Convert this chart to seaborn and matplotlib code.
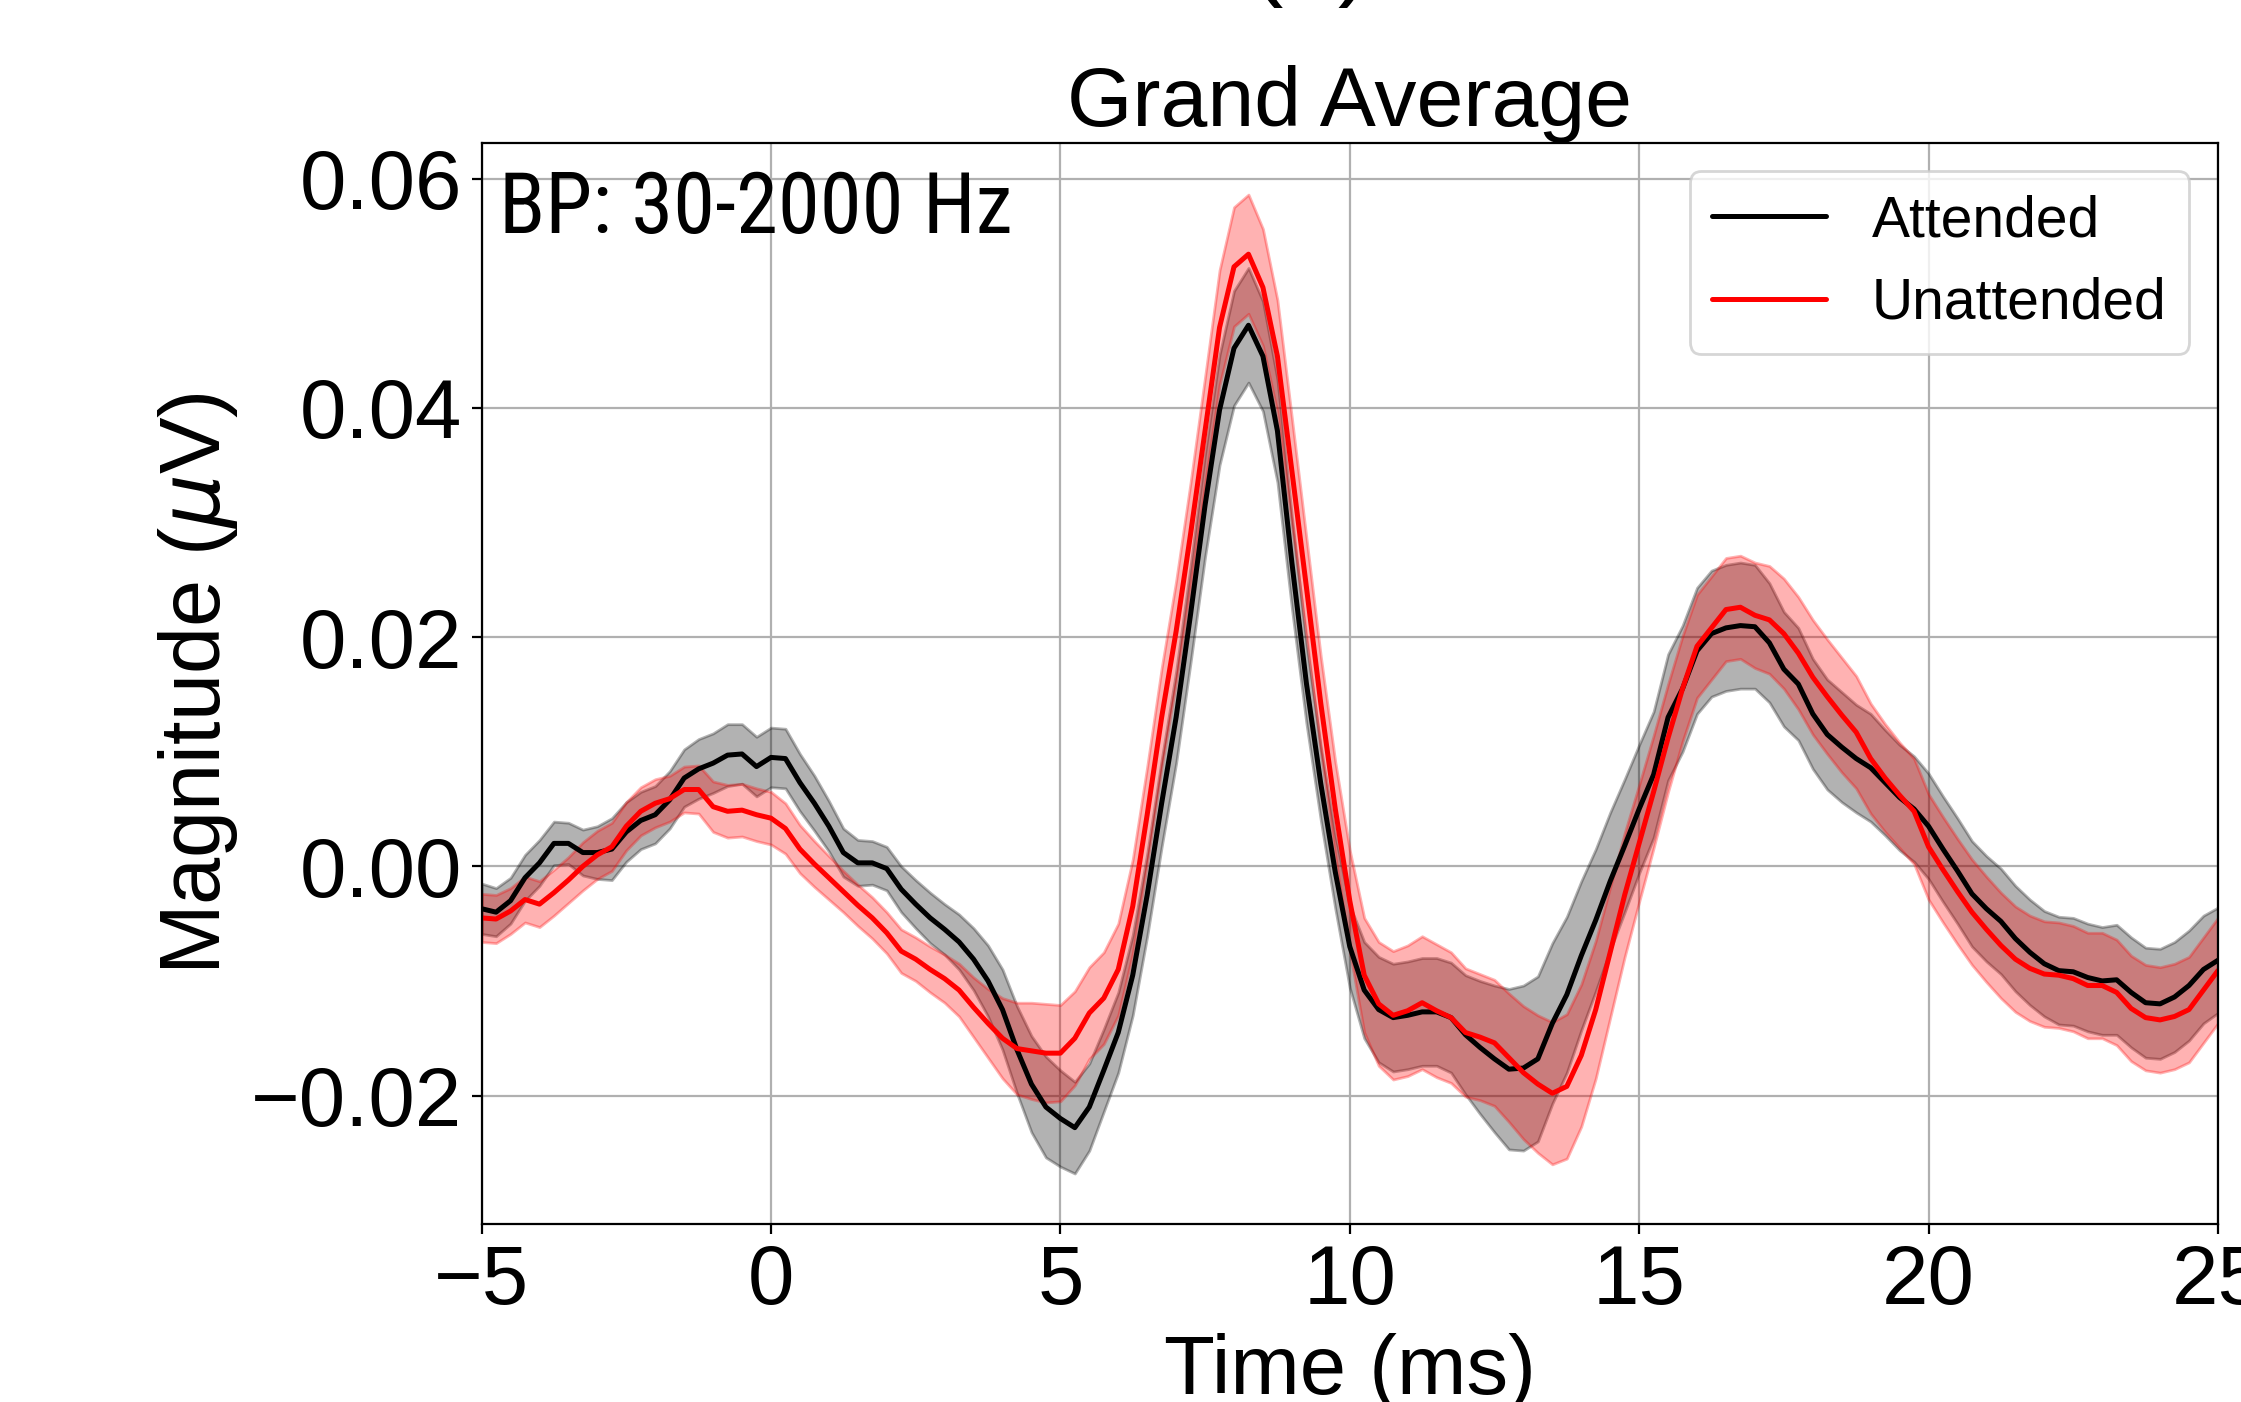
import numpy as np
import matplotlib
matplotlib.use("Agg")
import matplotlib.pyplot as plt
import seaborn as sns


# sampling grid of the averaged response (ms)
TIME_MS = np.arange(-5.0, 25.001, 0.25)

ATTENDED_MEAN = [
    -0.0037, -0.0040, -0.0030, -0.0010, 0.0003, 0.0020, 0.0020, 0.0012, 0.0012,
    0.0015, 0.0030, 0.0040, 0.0045, 0.0058, 0.0077, 0.0085, 0.0090, 0.0097, 0.0098, 0.0087,
    0.0095, 0.0094, 0.0073, 0.0055, 0.0035, 0.0012, 0.0003, 0.0003, -0.0002,
    -0.0020, -0.0033, -0.0045, -0.0055, -0.0066, -0.0081, -0.0100, -0.0125,
    -0.0160, -0.0190, -0.0210, -0.0220, -0.0228, -0.0210, -0.0178, -0.0145,
    -0.0095, -0.0025, 0.0055, 0.0130, 0.0220, 0.0315, 0.0398, 0.0452,
    0.0472, 0.0445, 0.0380, 0.0265, 0.0160, 0.0072, -0.0005, -0.0070,
    -0.0108, -0.0125, -0.0132, -0.0130, -0.0127, -0.0127, -0.0132, -0.0147,
    -0.0158, -0.0168, -0.0177, -0.0176, -0.0168, -0.0137, -0.0112, -0.0078,
    -0.0047, -0.0013, 0.0018, 0.0050, 0.0080, 0.0130, 0.0155, 0.0188,
    0.0203, 0.0208, 0.0210, 0.0209, 0.0195, 0.0172, 0.0159, 0.0133,
    0.0115, 0.0104, 0.0094, 0.0086, 0.0073, 0.0060, 0.0050, 0.0035,
    0.0015, -0.0004, -0.0024, -0.0037, -0.0048, -0.0063, -0.0075, -0.0085,
    -0.0091, -0.0092, -0.0097, -0.0100, -0.0099, -0.0110, -0.0119, -0.0120,
    -0.0114, -0.0104, -0.0090, -0.0082,
]
ATTENDED_SEM = [
    0.0022, 0.0021, 0.0020, 0.0020, 0.0020, 0.0019, 0.0018, 0.0020, 0.0023,
    0.0027, 0.0026, 0.0025, 0.0025, 0.0025, 0.0025, 0.0026, 0.0026, 0.0027, 0.0026, 0.0026,
    0.0026, 0.0026, 0.0025, 0.0024, 0.0022, 0.0021, 0.0020, 0.0019, 0.0019,
    0.0020, 0.0021, 0.0022, 0.0022, 0.0024, 0.0027, 0.0031, 0.0035,
    0.0038, 0.0042, 0.0044, 0.0042, 0.0040, 0.0038, 0.0036, 0.0035,
    0.0035, 0.0036, 0.0038, 0.0040, 0.0042, 0.0045, 0.0048, 0.0050,
    0.0050, 0.0048, 0.0045, 0.0040, 0.0035, 0.0032, 0.0032, 0.0036,
    0.0042, 0.0046, 0.0047, 0.0047, 0.0047, 0.0047, 0.0048, 0.0052,
    0.0058, 0.0064, 0.0070, 0.0072, 0.0072, 0.0070, 0.0068, 0.0065,
    0.0062, 0.0060, 0.0058, 0.0056, 0.0055, 0.0055, 0.0055, 0.0055,
    0.0055, 0.0055, 0.0055, 0.0054, 0.0052, 0.0050, 0.0049, 0.0048,
    0.0048, 0.0048, 0.0047, 0.0047, 0.0046, 0.0046, 0.0046, 0.0046,
    0.0046, 0.0046, 0.0046, 0.0046, 0.0046, 0.0046, 0.0046, 0.0046,
    0.0047, 0.0047, 0.0047, 0.0047, 0.0048, 0.0048, 0.0048, 0.0048,
    0.0048, 0.0048, 0.0047, 0.0046,
]

UNATTENDED_MEAN = [
    -0.0045, -0.0046, -0.0039, -0.0029, -0.0033, -0.0023, -0.0012, 0.0000, 0.0010,
    0.0017, 0.0035, 0.0048, 0.0055, 0.0059, 0.0067, 0.0067, 0.0052, 0.0048, 0.0049, 0.0045,
    0.0042, 0.0033, 0.0015, 0.0002, -0.0010, -0.0022, -0.0034, -0.0045, -0.0058,
    -0.0074, -0.0081, -0.0090, -0.0098, -0.0108, -0.0123, -0.0137, -0.0150,
    -0.0159, -0.0161, -0.0163, -0.0163, -0.0150, -0.0128, -0.0115, -0.0090,
    -0.0035, 0.0045, 0.0130, 0.0205, 0.0290, 0.0380, 0.0470, 0.0523,
    0.0534, 0.0505, 0.0445, 0.0345, 0.0244, 0.0142, 0.0050, -0.0030,
    -0.0095, -0.0120, -0.0130, -0.0126, -0.0119, -0.0126, -0.0132, -0.0145,
    -0.0149, -0.0154, -0.0167, -0.0180, -0.0190, -0.0198, -0.0192, -0.0165,
    -0.0125, -0.0075, -0.0025, 0.0020, 0.0065, 0.0112, 0.0155, 0.0192,
    0.0208, 0.0224, 0.0226, 0.0219, 0.0215, 0.0203, 0.0186, 0.0165,
    0.0148, 0.0132, 0.0117, 0.0094, 0.0077, 0.0062, 0.0048, 0.0017,
    -0.0003, -0.0022, -0.0040, -0.0055, -0.0069, -0.0081, -0.0089, -0.0094,
    -0.0095, -0.0098, -0.0104, -0.0104, -0.0110, -0.0124, -0.0132, -0.0134,
    -0.0131, -0.0125, -0.0108, -0.0091,
]
UNATTENDED_SEM = [
    0.0021, 0.0021, 0.0020, 0.0020, 0.0020, 0.0020, 0.0020, 0.0021, 0.0021,
    0.0021, 0.0021, 0.0021, 0.0021, 0.0020, 0.0020, 0.0021, 0.0022, 0.0023, 0.0023, 0.0023,
    0.0023, 0.0022, 0.0021, 0.0020, 0.0019, 0.0018, 0.0018, 0.0018, 0.0018,
    0.0019, 0.0019, 0.0020, 0.0021, 0.0023, 0.0026, 0.0030, 0.0035,
    0.0040, 0.0042, 0.0043, 0.0042, 0.0041, 0.0040, 0.0040, 0.0040,
    0.0041, 0.0042, 0.0043, 0.0044, 0.0045, 0.0047, 0.0050, 0.0052,
    0.0052, 0.0051, 0.0049, 0.0046, 0.0043, 0.0041, 0.0041, 0.0044,
    0.0050, 0.0054, 0.0056, 0.0057, 0.0058, 0.0058, 0.0057, 0.0056,
    0.0055, 0.0055, 0.0056, 0.0058, 0.0060, 0.0062, 0.0063, 0.0062,
    0.0060, 0.0057, 0.0054, 0.0051, 0.0049, 0.0047, 0.0046, 0.0045,
    0.0045, 0.0045, 0.0045, 0.0046, 0.0047, 0.0048, 0.0049, 0.0050,
    0.0050, 0.0050, 0.0049, 0.0048, 0.0047, 0.0046, 0.0046, 0.0046,
    0.0046, 0.0046, 0.0046, 0.0046, 0.0046, 0.0046, 0.0046, 0.0046,
    0.0046, 0.0046, 0.0046, 0.0046, 0.0046, 0.0046, 0.0046, 0.0046,
    0.0046, 0.0046, 0.0046, 0.0046,
]

X_TICKS = [-5, 0, 5, 10, 15, 20, 25]
Y_TICKS = [-0.02, 0.00, 0.02, 0.04, 0.06]

BLACK = "#000000"
RED = "#ff0000"


def main() -> None:
    sns.set_theme(
        style="ticks",
        rc={
            "axes.grid": True,
            "grid.color": "#b0b0b0",
            "grid.linewidth": 0.8,
            "axes.edgecolor": "black",
            "axes.linewidth": 0.8,
            "axes.labelcolor": "black",
            "text.color": "black",
            "xtick.color": "black",
            "ytick.color": "black",
            "xtick.major.size": 3.5,
            "ytick.major.size": 3.5,
            "xtick.major.width": 0.8,
            "ytick.major.width": 0.8,
        },
    )
    plt.rcParams["font.family"] = ["Liberation Sans", "DejaVu Sans"]
    plt.rcParams["axes.unicode_minus"] = True

    fig = plt.figure(figsize=(11.205, 7.01), dpi=200)
    ax = fig.add_axes([0.2149, 0.1270, 0.7748, 0.7710])

    att_mean = np.array(ATTENDED_MEAN)
    att_sem = np.array(ATTENDED_SEM)
    un_mean = np.array(UNATTENDED_MEAN)
    un_sem = np.array(UNATTENDED_SEM)

    ax.fill_between(TIME_MS, att_mean - att_sem, att_mean + att_sem, color=BLACK, alpha=0.3)
    ax.fill_between(TIME_MS, un_mean - un_sem, un_mean + un_sem, color=RED, alpha=0.3)
    sns.lineplot(x=TIME_MS, y=att_mean, color=BLACK, linewidth=1.8, label="Attended", ax=ax)
    sns.lineplot(x=TIME_MS, y=un_mean, color=RED, linewidth=1.8, label="Unattended", ax=ax)

    ax.set_xlim(-5, 25)
    ax.set_ylim(-0.0312, 0.0631)
    ax.set_xticks(X_TICKS)
    ax.set_yticks(Y_TICKS)
    ax.set_yticklabels([f"{v:.2f}".replace("-", "\u2212") for v in Y_TICKS])
    ax.set_xticklabels([str(v).replace("-", "\u2212") for v in X_TICKS])
    ax.tick_params(labelsize=30)
    ax.set_xlabel("Time (ms)", fontsize=30)
    ax.set_ylabel("Magnitude ($\\mu$V)", fontsize=30.5)
    ax.set_title("Grand Average", fontsize=30.3, pad=0)

    ax.text(0.010, 0.917, "BP: 30-2000 Hz", transform=ax.transAxes, fontsize=30.5,
            family=["Roboto Condensed", "DejaVu Sans"], fontstretch="condensed",
            va="baseline", ha="left")
    ax.legend(loc="upper right", fontsize=20.5)

    # cropped panel label from the enclosing figure; only the bracket tails show
    fig.text(0.585, 1.0095, "(a)", ha="center", va="baseline", fontsize=36)

    fig.savefig("out.png", dpi=200)
    plt.close(fig)


if __name__ == "__main__":
    main()
